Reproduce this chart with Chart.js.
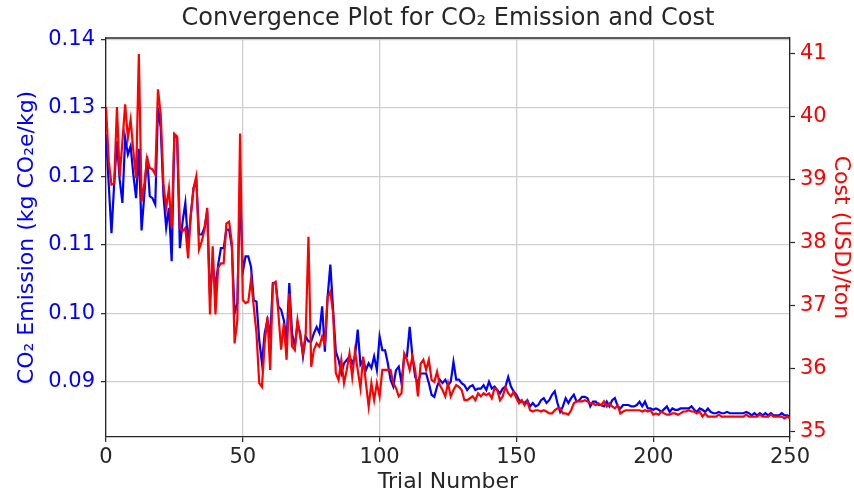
<!DOCTYPE html>
<html><head><meta charset="utf-8">
<script src="https://cdn.jsdelivr.net/npm/chart.js@4"></script>
<style>html,body{margin:0;padding:0;background:#fff;}canvas{display:block;}</style>
</head><body>
<canvas id="c" width="854" height="495"></canvas>
<script>
const co2 = [
0.1261,0.1188,0.1117,0.1190,0.1251,0.1195,0.1161,0.1256,0.1232,0.1244,
0.1202,0.1168,0.1240,0.1121,0.1173,0.1229,0.1171,0.1168,0.1159,0.1300,
0.1271,0.1172,0.1125,0.1154,0.1076,0.1261,0.1256,0.1095,0.1134,0.1161,
0.1100,0.1144,0.1183,0.1193,0.1115,0.1115,0.1125,0.1149,0.1027,0.1071,
0.1037,0.1071,0.1095,0.1095,0.1122,0.1122,0.1097,0.1000,0.1015,0.1180,
0.1060,0.1083,0.1083,0.1068,0.1019,0.1017,0.0961,0.0927,0.0971,0.0990,
0.0966,0.1044,0.1044,0.1010,0.1005,0.0990,0.0961,0.1044,0.0971,0.0951,
0.0985,0.0971,0.0937,0.0966,0.0959,0.0959,0.0971,0.0980,0.0971,0.1010,
0.0944,0.1024,0.1071,0.1005,0.0944,0.0932,0.0912,0.0927,0.0932,0.0937,
0.0927,0.0937,0.0976,0.0925,0.0932,0.0917,0.0927,0.0920,0.0937,0.0917,
0.0966,0.0946,0.0946,0.0927,0.0903,0.0893,0.0917,0.0922,0.0898,0.0937,
0.0937,0.0980,0.0937,0.0907,0.0898,0.0912,0.0912,0.0912,0.0898,0.0881,
0.0878,0.0893,0.0903,0.0898,0.0903,0.0895,0.0900,0.0929,0.0903,0.0903,
0.0898,0.0895,0.0888,0.0893,0.0895,0.0888,0.0890,0.0890,0.0895,0.0888,
0.0900,0.0890,0.0893,0.0888,0.0883,0.0890,0.0893,0.0907,0.0893,0.0886,
0.0881,0.0873,0.0871,0.0869,0.0873,0.0864,0.0869,0.0864,0.0866,0.0873,
0.0876,0.0869,0.0873,0.0881,0.0886,0.0869,0.0856,0.0864,0.0876,0.0869,
0.0876,0.0881,0.0871,0.0873,0.0878,0.0878,0.0876,0.0864,0.0871,0.0871,
0.0866,0.0866,0.0864,0.0871,0.0864,0.0873,0.0876,0.0864,0.0861,0.0866,
0.0866,0.0866,0.0864,0.0864,0.0866,0.0871,0.0864,0.0871,0.0861,0.0861,
0.0859,0.0861,0.0859,0.0856,0.0860,0.0864,0.0856,0.0861,0.0859,0.0859,
0.0861,0.0861,0.0861,0.0861,0.0864,0.0859,0.0856,0.0861,0.0859,0.0856,
0.0861,0.0856,0.0854,0.0854,0.0856,0.0854,0.0854,0.0856,0.0854,0.0854,
0.0854,0.0854,0.0854,0.0854,0.0856,0.0854,0.0851,0.0854,0.0851,0.0854,
0.0851,0.0854,0.0851,0.0854,0.0851,0.0851,0.0851,0.0854,0.0851,0.0851,
0.0849];

const cost = [
40.15,39.29,38.92,38.94,40.15,39.05,39.60,40.19,39.66,39.95,
39.45,39.02,40.99,38.65,38.92,39.34,39.18,39.16,39.08,40.43,
40.03,38.92,38.55,38.86,38.23,39.72,39.68,38.23,38.18,38.23,
37.75,38.44,38.86,39.05,37.89,38.02,38.20,38.55,36.86,37.94,
36.86,37.60,37.67,37.67,38.30,38.33,37.99,36.40,36.77,39.73,
37.09,37.04,37.06,37.41,36.98,36.56,35.77,35.71,36.40,36.82,
35.98,37.35,37.38,36.88,36.30,36.72,36.14,37.19,36.35,36.30,
36.77,36.51,36.24,36.56,38.09,36.03,36.30,36.40,36.35,36.51,
36.40,37.14,37.22,36.88,35.93,35.82,36.14,35.77,35.98,36.24,
35.87,36.27,35.98,35.69,36.19,35.77,35.40,35.77,35.50,35.77,
35.56,35.98,35.98,35.98,35.98,35.77,35.69,35.56,35.61,36.24,
36.14,35.98,36.19,35.98,35.56,36.08,36.14,35.98,36.14,35.82,
35.79,35.95,35.74,35.66,35.56,35.77,35.56,35.66,35.74,35.71,
35.66,35.50,35.50,35.53,35.56,35.50,35.61,35.56,35.61,35.58,
35.61,35.53,35.69,35.66,35.50,35.56,35.71,35.61,35.56,35.63,
35.53,35.45,35.50,35.42,35.48,35.34,35.32,35.34,35.34,35.32,
35.34,35.32,35.29,35.29,35.34,35.37,35.37,35.29,35.29,35.27,
35.34,35.45,35.48,35.48,35.48,35.50,35.48,35.45,35.45,35.42,
35.45,35.42,35.48,35.40,35.45,35.40,35.37,35.42,35.29,35.32,
35.34,35.34,35.34,35.34,35.34,35.34,35.32,35.34,35.32,35.34,
35.27,35.29,35.27,35.32,35.29,35.27,35.27,35.29,35.29,35.27,
35.29,35.32,35.32,35.34,35.32,35.32,35.29,35.32,35.24,35.29,
35.24,35.24,35.24,35.24,35.27,35.24,35.24,35.24,35.24,35.24,
35.24,35.24,35.24,35.24,35.27,35.24,35.24,35.24,35.24,35.27,
35.24,35.24,35.24,35.27,35.24,35.24,35.24,35.24,35.21,35.24,
35.21];

const trials = Array.from({length: co2.length}, (_, i) => i);
const xTicks = [0, 50, 100, 150, 200, 250];
const co2Ticks = [0.09, 0.10, 0.11, 0.12, 0.13, 0.14];
const costTicks = [35, 36, 37, 38, 39, 40, 41];
const titleText = 'Convergence Plot for CO\u2082 Emission and Cost';
const co2Label = 'CO\u2082 Emission (kg CO\u2082e/kg)';
const costLabel = 'Cost (USD)/ton';
const xLabel = 'Trial Number';

const FONT = 'DejaVu Sans';
const BLUE = '#0000ff', RED = '#ff0000', DARK = '#262626', GRID = '#cfcfcf';

const framePlugin = {
  id: 'frame',
  afterDraw(chart) {
    const {ctx, chartArea: a} = chart;
    ctx.save();
    ctx.strokeStyle = DARK;
    ctx.lineWidth = 1.3;
    ctx.beginPath();
    ctx.moveTo(a.left, a.top);
    ctx.lineTo(a.right, a.top);
    ctx.stroke();
    ctx.fillStyle = DARK;
    ctx.font = '24px "' + FONT + '"';
    ctx.textAlign = 'center';
    ctx.textBaseline = 'middle';
    ctx.fillText(titleText, (a.left + a.right) / 2, 19);
    ctx.restore();
  }
};

new Chart(document.getElementById('c'), {
  type: 'line',
  data: {
    datasets: [
      { label: 'Cost', data: trials.map((t, i) => ({x: t, y: cost[i]})), yAxisID: 'y1',
        borderColor: RED, borderWidth: 2.2, pointRadius: 0, tension: 0, order: 0 },
      { label: 'CO2', data: trials.map((t, i) => ({x: t, y: co2[i]})), yAxisID: 'y',
        borderColor: BLUE, borderWidth: 2.2, pointRadius: 0, tension: 0, order: 1 }
    ]
  },
  options: {
    responsive: false,
    animation: false,
    layout: { padding: { top: 38, left: 0, right: 0, bottom: 0 } },
    plugins: { legend: { display: false }, title: { display: false }, tooltip: { enabled: false } },
    scales: {
      x: {
        type: 'linear', min: 0, max: 250,
        afterBuildTicks: s => { s.ticks = xTicks.map(v => ({value: v})); },
        afterFit: s => { s.height = 58; },
        ticks: { color: DARK, font: {family: FONT, size: 21}, padding: 3, maxRotation: 0, callback: v => String(v) },
        grid: { color: GRID, lineWidth: 1.3, tickLength: 5, tickColor: DARK, tickWidth: 1.2 },
        border: { color: DARK, width: 1.3 },
        title: { display: true, text: xLabel, color: DARK, font: {family: FONT, size: 22}, padding: {top: 0, bottom: 0} }
      },
      y: {
        type: 'linear', position: 'left', min: 0.08193, max: 0.14019,
        afterBuildTicks: s => { s.ticks = co2Ticks.map(v => ({value: v})); },
        afterFit: s => { s.width = 106; },
        ticks: { color: BLUE, font: {family: FONT, size: 21}, padding: 6, callback: v => Number(v).toFixed(2) },
        grid: { color: GRID, lineWidth: 1.3, tickLength: 5, tickColor: DARK, tickWidth: 1.2 },
        border: { color: DARK, width: 1.3 },
        title: { display: true, text: co2Label, color: BLUE, font: {family: FONT, size: 22}, padding: {top: 14, bottom: 0} }
      },
      y1: {
        type: 'linear', position: 'right', min: 34.916, max: 41.243,
        afterBuildTicks: s => { s.ticks = costTicks.map(v => ({value: v})); },
        afterFit: s => { s.width = 64; },
        ticks: { color: RED, font: {family: FONT, size: 21}, padding: 5, callback: v => String(v) },
        grid: { drawOnChartArea: false, tickLength: 5, tickColor: DARK, tickWidth: 1.2 },
        border: { color: DARK, width: 1.3 },
        title: { display: true, text: costLabel, color: RED, font: {family: FONT, size: 22}, padding: {top: 0, bottom: 0} }
      }
    }
  },
  plugins: [framePlugin]
});
</script>
</body></html>
